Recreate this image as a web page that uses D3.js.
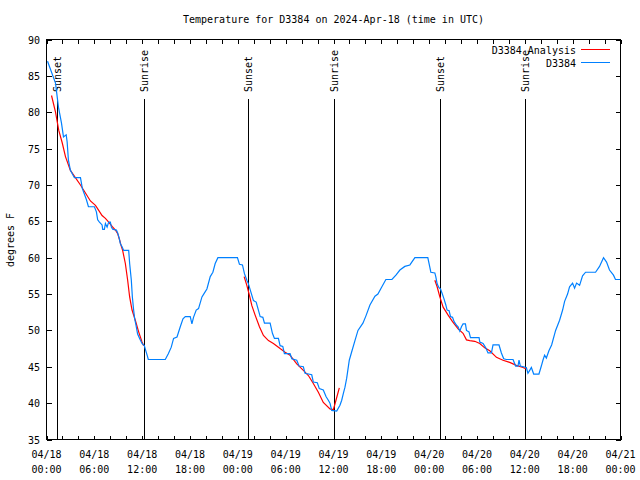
<!DOCTYPE html>
<html><head><meta charset="utf-8">
<script src="https://cdn.jsdelivr.net/npm/d3@7"></script>
<style>
body{margin:0;background:#fff;}
text{font-family:"DejaVu Sans Mono","Liberation Mono",monospace;font-size:10px;fill:#000;}
</style></head>
<body><svg id="c" width="640" height="480"></svg>
<script>
// ---- data (hours since 2024-04-18 00:00 UTC) ----
const obsHours = [0.13,1.13,1.5,1.88,2.13,2.47,2.59,2.75,3.0,3.5,4.26,4.5,5.0,5.26,6.01,6.26,6.42,6.64,6.97,7.05,7.26,7.39,7.6,7.8,8.01,8.14,8.3,8.77,8.93,9.14,9.27,9.48,9.68,10.31,10.43,10.64,10.77,10.93,11.06,11.23,11.43,11.68,11.98,12.27,12.43,12.65,12.77,14.9,15.28,15.65,15.94,16.37,16.78,17.12,17.41,18.03,18.24,18.44,18.78,19.07,19.5,19.78,20.12,20.54,20.87,21.16,21.5,23.95,24.2,24.58,24.83,25.13,25.33,25.63,25.96,26.3,26.58,26.8,27.14,27.34,28.05,28.34,28.59,29.09,29.3,29.64,29.84,30.55,30.77,31.39,31.68,32.22,32.43,33.27,33.47,33.97,34.22,34.72,35.06,35.35,35.56,35.77,36.4,36.81,37.03,37.23,37.44,37.65,37.98,38.32,38.69,39.07,39.69,40.07,40.57,41.2,41.57,42.07,42.57,43.33,43.83,44.33,44.95,45.58,46.21,47.83,48.08,48.21,48.71,48.83,49.0,49.21,49.42,49.62,49.84,50.09,50.25,50.5,50.68,50.93,51.13,51.43,51.63,51.84,52.05,52.25,52.55,52.68,53.0,53.18,54.26,54.35,54.76,55.1,55.38,55.81,56.01,56.76,57.06,57.35,57.69,58.52,58.85,59.14,59.27,59.44,60.19,60.39,60.61,60.82,61.11,61.77,62.07,62.27,62.48,62.7,63.02,63.36,63.86,64.36,64.74,64.99,65.36,65.61,65.99,66.24,66.49,66.87,67.24,67.62,68.87,69.37,69.87,70.25,70.62,71.12,71.37,72.0];
const obsTemps = [87,84,80.7,78.5,76.6,76.9,75.9,73.4,72,71,71,69.5,68,67,67,66.3,65.2,64.9,64.5,63.9,63.9,64.7,64.2,64.9,64.9,64.2,63.9,63.8,63.4,62.6,61.9,61.5,61,61,59.2,56.9,54.6,52.8,51.6,50.7,49.5,48.9,48.2,47.9,47.3,46.5,46,46,46.8,47.7,48.9,49.1,50.5,51.6,51.9,51.9,50.9,51.8,52.8,53,54.6,55.1,55.7,57.4,58,59.2,60,60,59.1,59,57.8,56.9,56.4,55.3,54.1,53.9,52.8,51.9,51.8,51,51,49.6,48.9,48.9,47.9,47.8,46.8,46.8,46.1,45.9,45.1,45,44.1,43.9,42.9,42.8,42,41.8,40.9,40.4,40,39,38.9,39.7,40.4,41.3,42.2,43.4,45.9,47.2,48.6,50,51,52,53.5,54.7,55,56,57,57,57.6,58.3,58.8,59,60,60,58.7,58,57.9,57.4,56.4,55.9,55.7,55.1,54.4,53.5,52.8,52.7,51.9,51.8,51.2,50.7,50.5,49.9,50.5,50.9,50.9,50,49.8,49,49,48.4,48.2,47.6,46.9,46.9,48,48,46.9,46.1,46,46,45.1,45.1,45.9,45.1,44.9,44.1,44.5,44.9,44,44,45.1,45.9,46.6,46.2,47.2,48,50,51.4,52.8,54,55,56,56.5,55.8,56.5,56.2,57.5,58,58,58.8,60,59.4,58.3,57.6,57,57];
const anaHours = [0.63,1.13,1.54,1.97,2.38,3.0,4.26,5.51,6.14,6.55,6.97,7.39,7.8,8.23,8.64,8.93,9.18,9.35,9.55,9.89,10.18,10.43,10.73,11.14,11.56,11.98,12.18,null,
  24.79,25.13,25.46,25.76,26.17,26.71,27.21,27.84,28.46,29.3,29.93,30.55,31.39,32.22,32.85,33.47,34.1,34.72,35.56,35.98,36.31,36.73,null,
  48.71,49.0,49.34,49.75,50.38,50.93,51.63,52.25,52.68,53.09,53.72,54.35,54.97,55.6,56.44,57.26,58.1,58.94,59.77,60.19];
const anaTemps = [82.3,80,77.5,75.8,73.9,72,70,67.8,67.2,66.5,65.8,65.4,64.9,64.3,63.8,63.3,62.4,61.7,61,59.2,56.9,54.6,52.8,51.4,49.8,48.4,47.9,null,
  57.4,56.2,54.8,53.4,52.1,50.5,49.3,48.6,48.2,47.5,47,46.6,45.4,44.5,43.8,42.7,41.5,40.1,39.2,39.1,40.4,42.1,null,
  56.9,56,54.6,53.2,52.1,51.2,50.2,49.6,48.7,48.6,48.5,48.2,47.6,47.2,46.3,45.9,45.6,45.2,44.9,44.7];
const sunHours = [1.3,12.2,25.25,36.05,49.3,60.05];
const sunLabels = ["Sunset","Sunrise","Sunset","Sunrise","Sunset","Sunrise"];
const yTickValues = [35,40,45,50,55,60,65,70,75,80,85,90];
const xLabelHours = [0,6,12,18,24,30,36,42,48,54,60,66,72];
const seriesNames = ["D3384 Analysis","D3384"];
const seriesColors = ["#ff0000","#0080ff"];
const titleText = "Temperature for D3384 on 2024-Apr-18 (time in UTC)";
const yLabelText = "degrees F";

// ---- drawing ----
const t0 = Date.UTC(2024,3,18,0,0);
const H = 3600e3;
const svg = d3.select("#c");
const L = 46.5, R = 620.5, T = 39.5, B = 439.5;
const x = d3.scaleUtc().domain([new Date(t0), new Date(t0+72*H)]).range([L, R]);
const y = d3.scaleLinear().domain([35,90]).range([B, T]);
const hx = h => x(new Date(t0 + h*H));

// title
svg.append("text").attr("x", (L+R)/2).attr("y", 23).attr("text-anchor","middle").text(titleText);
// y label
svg.append("text").attr("transform","translate(14,240) rotate(-90)").attr("text-anchor","middle").text(yLabelText);

// axes with inward ticks
const tickHours = d3.range(0, 73, 2);
const xTickDates = tickHours.map(h => new Date(t0+h*H));
const fmt1 = d3.utcFormat("%m/%d"), fmt2 = d3.utcFormat("%H:%M");
const gx = svg.append("g").attr("transform",`translate(0,${B})`)
  .call(d3.axisTop(x).tickValues(xTickDates).tickSize(4).tickFormat(""));
const gxt = svg.append("g").attr("transform",`translate(0,${T})`)
  .call(d3.axisBottom(x).tickValues(xTickDates).tickSize(4).tickFormat(""));
const gy = svg.append("g").attr("transform",`translate(${L},0)`)
  .call(d3.axisRight(y).tickValues(yTickValues).tickSize(5).tickFormat(""));
const gyr = svg.append("g").attr("transform",`translate(${R},0)`)
  .call(d3.axisLeft(y).tickValues(yTickValues).tickSize(5).tickFormat(""));
[gx,gxt,gy,gyr].forEach(g=>{g.select(".domain").remove(); g.selectAll("line").attr("stroke","#000").attr("shape-rendering","crispEdges");});

// y tick labels
svg.append("g").selectAll("text").data(yTickValues).join("text")
  .attr("x", 40).attr("y", d=>y(d)+4).attr("text-anchor","end").text(d=>d);
// x tick labels (two lines)
const xl = svg.append("g").selectAll("g").data(xLabelHours).join("g");
xl.append("text").attr("x", d=>hx(d)).attr("y", 458).attr("text-anchor","middle").text(d=>fmt1(new Date(t0+d*H)));
xl.append("text").attr("x", d=>hx(d)).attr("y", 473).attr("text-anchor","middle").text(d=>fmt2(new Date(t0+d*H)));

// sun lines
const sg = svg.append("g").selectAll("g").data(sunHours).join("g");
sg.append("line").attr("x1",d=>Math.round(hx(d))+0.5).attr("x2",d=>Math.round(hx(d))+0.5)
  .attr("y1",99).attr("y2",B).attr("stroke","#000").attr("stroke-width",1);
sg.append("text").attr("transform",(d)=>`translate(${Math.round(hx(d))+0.5},92) rotate(-90)`)
  .attr("dy","0.35em").attr("text-anchor","start").text((d,i)=>sunLabels[i]);

// series
const anaData = anaHours.map((h,i)=>[h, anaTemps[i]]);
const obsData = obsHours.map((h,i)=>[h, obsTemps[i]]);
const line = d3.line().defined(d=>d[0]!=null && d[1]!=null).x(d=>hx(d[0])).y(d=>y(d[1]));
svg.append("path").datum(anaData).attr("d",line).attr("fill","none").attr("stroke",seriesColors[0]).attr("stroke-width",1.2);
svg.append("path").datum(obsData).attr("d",line).attr("fill","none").attr("stroke",seriesColors[1]).attr("stroke-width",1.2);

// border
svg.append("rect").attr("x",L).attr("y",T).attr("width",R-L).attr("height",B-T)
  .attr("fill","none").attr("stroke","#000").attr("shape-rendering","crispEdges");

// legend
const lg = svg.append("g").selectAll("g").data(seriesNames).join("g");
lg.append("text").attr("x",576).attr("y",(d,i)=>53.5+i*13).attr("text-anchor","end").text(d=>d);
lg.append("line").attr("x1",581).attr("x2",610).attr("y1",(d,i)=>49.5+i*13).attr("y2",(d,i)=>49.5+i*13)
  .attr("stroke",(d,i)=>seriesColors[i]).attr("stroke-width",1);
</script></body></html>
